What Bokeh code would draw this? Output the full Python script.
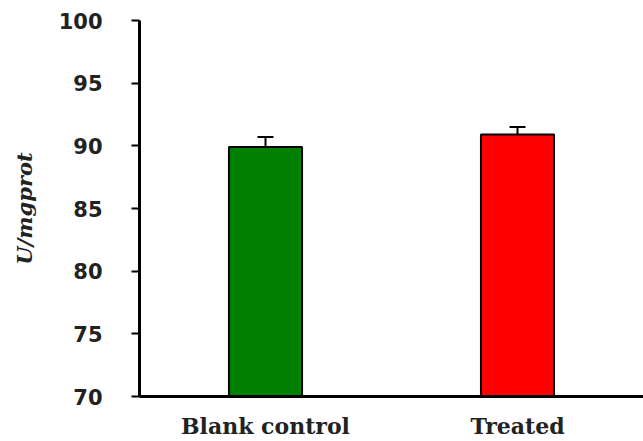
from bokeh.plotting import figure
from bokeh.models import ColumnDataSource, Range1d, FactorRange, Whisker, TeeHead
from bokeh.embed import file_html
from bokeh.resources import INLINE

categories = ["Blank control", "Treated"]
values = [89.9, 90.9]
errors = [0.8, 0.6]
colors = ["#008000", "#FF0000"]
y_ticks = [70, 75, 80, 85, 90, 95, 100]

src = ColumnDataSource(data=dict(
    x=categories,
    top=values,
    upper=[v + e for v, e in zip(values, errors)],
    lower=values,
    color=colors,
))

p = figure(width=643, height=441, x_range=FactorRange(factors=categories, range_padding=0),
           y_range=Range1d(70, 100), output_backend="svg", toolbar_location=None,
           min_border_left=139, min_border_top=20, min_border_bottom=44, min_border_right=0)

p.vbar(x="x", top="top", bottom=70, width=0.29, fill_color="color",
       line_color="black", line_width=2, source=src)

w = Whisker(base="x", upper="upper", lower="lower", source=src,
            upper_head=TeeHead(size=16, line_width=2, line_color="black"),
            lower_head=None, line_width=2, line_color="black")
p.add_layout(w)

p.outline_line_color = None
p.xgrid.visible = False
p.ygrid.visible = False
p.background_fill_color = "white"

ya = p.yaxis[0]
ya.ticker = y_ticks
ya.axis_line_width = 3
ya.axis_line_color = "black"
ya.major_tick_line_width = 2
ya.major_tick_out = 8
ya.major_tick_in = 0
ya.minor_tick_out = 0
ya.minor_tick_in = 0
ya.major_label_standoff = 29
ya.major_label_text_font = "DejaVu Sans"
ya.major_label_text_font_style = "bold"
ya.major_label_text_font_size = "21px"
ya.major_label_text_color = "#222222"
ya.axis_label = "U/mgprot"
ya.axis_label_text_font = "DejaVu Serif"
ya.axis_label_text_font_style = "bold italic"
ya.axis_label_text_font_size = "21px"
ya.axis_label_text_color = "#222222"
ya.axis_label_standoff = 19

xa = p.xaxis[0]
xa.axis_line_width = 3
xa.axis_line_color = "black"
xa.major_tick_out = 0
xa.major_tick_in = 0
xa.minor_tick_out = 0
xa.major_label_standoff = 16
xa.major_label_text_font = "DejaVu Serif"
xa.major_label_text_font_style = "bold"
xa.major_label_text_font_size = "22px"
xa.major_label_text_color = "#222222"

open("out.html", "w").write(file_html(p, INLINE))
